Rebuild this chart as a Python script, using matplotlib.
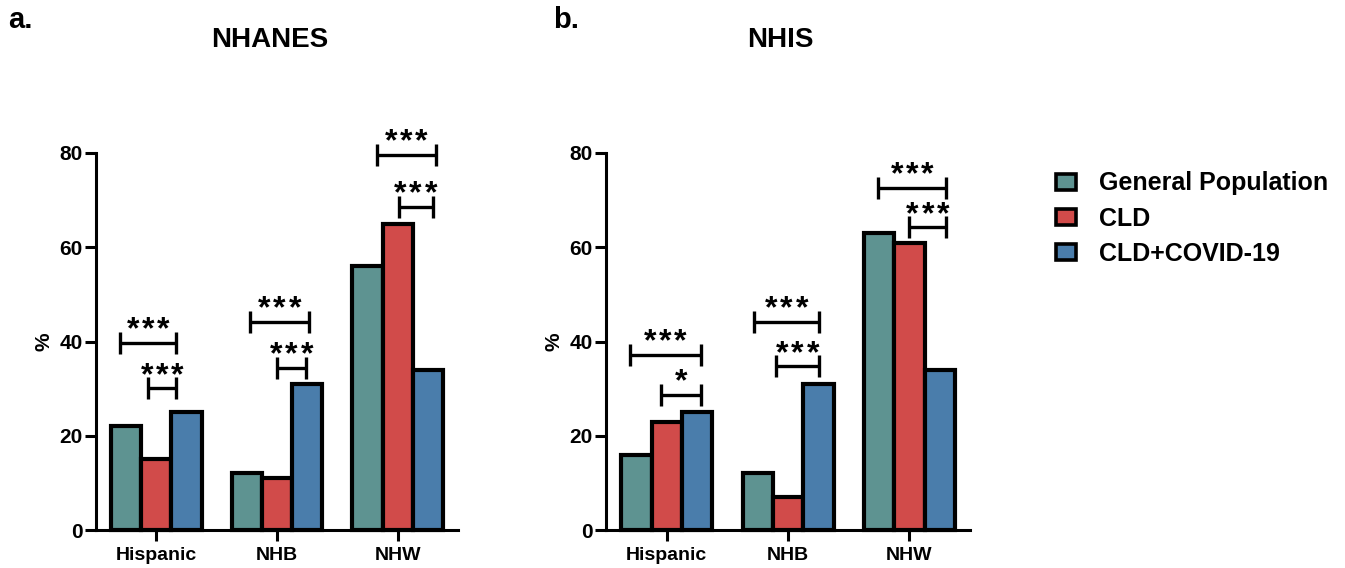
import matplotlib
matplotlib.use("Agg")
import matplotlib.pyplot as plt
from matplotlib.patches import Patch
import numpy as np

plt.rcParams['font.family'] = ['Liberation Sans', 'DejaVu Sans']
plt.rcParams['font.weight'] = 'bold'

categories = ["Hispanic", "NHB", "NHW"]
series_names = ["General Population", "CLD", "CLD+COVID-19"]
colors = ["#5E9391", "#D14B4A", "#4A7DAB"]

nhanes_gp = [22, 12, 56]
nhanes_cld = [15, 11, 65]
nhanes_covid = [25, 31, 34]

nhis_gp = [16, 12, 63]
nhis_cld = [23, 7, 61]
nhis_covid = [25, 31, 34]

yticks = [0, 20, 40, 60, 80]

# significance brackets: (x_start, x_end, y, label)
nhanes_sig = [(-0.30, 0.165, 39.7, "***"), (-0.066, 0.165, 30.1, "***"),
              (0.777, 1.264, 44.2, "***"), (1.0, 1.24, 34.4, "***"),
              (1.826, 2.314, 79.6, "***"), (2.008, 2.289, 68.6, "***")]
nhis_sig = [(-0.306, 0.281, 37.2, "***"), (-0.05, 0.281, 28.7, "*"),
            (0.719, 1.256, 44.2, "***"), (0.901, 1.256, 34.8, "***"),
            (1.744, 2.306, 72.6, "***"), (2.0, 2.306, 64.3, "***")]

fig = plt.figure(figsize=(13.45, 5.68), dpi=100)
ax_a = fig.add_axes([96/1345, 1-530/568, (458-96)/1345, (530-153)/568])
ax_b = fig.add_axes([606/1345, 1-530/568, (970-606)/1345, (530-153)/568])

bw = 0.25
x = np.arange(len(categories))

def draw(ax, data, sig, title):
    for i, (vals, c) in enumerate(zip(data, colors)):
        ax.bar(x + (i-1)*bw, vals, width=bw, color=c, edgecolor='black',
               linewidth=3.0, zorder=2, clip_on=False)
    ax.set_xlim(-0.5, 2.5)
    ax.set_ylim(0, 80)
    ax.set_yticks(yticks)
    ax.set_xticks(x)
    ax.set_xticklabels(categories, fontsize=14, fontweight='bold')
    ax.set_yticklabels([str(t) for t in yticks], fontsize=15, fontweight='bold')
    ax.set_ylabel('%', fontsize=15, fontweight='bold', labelpad=4)
    for s in ['top', 'right']:
        ax.spines[s].set_visible(False)
    for s in ['left', 'bottom']:
        ax.spines[s].set_linewidth(2.2)
    ax.tick_params(axis='y', width=2.2, length=8, pad=1.5)
    ax.tick_params(axis='x', width=2.2, length=8, pad=4)
    for (x0, x1, y, lab) in sig:
        cap = 2.3
        ax.plot([x0, x1], [y, y], color='black', lw=2.4, clip_on=False, solid_capstyle='butt')
        ax.plot([x0, x0], [y-cap, y+cap], color='black', lw=2.4, clip_on=False, solid_capstyle='butt')
        ax.plot([x1, x1], [y-cap, y+cap], color='black', lw=2.4, clip_on=False, solid_capstyle='butt')
        n = len(lab)
        for k in range(n):
            ax.annotate('*', xy=((x0+x1)/2, y), xytext=((k-(n-1)/2)*11.0, 3.0),
                        textcoords='offset points', ha='center', va='baseline',
                        fontsize=23, fontweight='bold', annotation_clip=False)
    fig.text(ax.get_position().x0 + ax.get_position().width*0.48, 1-40/568, title,
             ha='center', va='center', fontsize=20, fontweight='bold')

draw(ax_a, [nhanes_gp, nhanes_cld, nhanes_covid], nhanes_sig, "NHANES")
draw(ax_b, [nhis_gp, nhis_cld, nhis_covid], nhis_sig, "NHIS")

fig.text(8/1345, 1-20/568, "a.", ha='left', va='center', fontsize=21, fontweight='bold')
fig.text(553/1345, 1-20/568, "b.", ha='left', va='center', fontsize=21, fontweight='bold')

handles = [Patch(facecolor=c, edgecolor='black', linewidth=2.6) for c in colors]
fig.legend(handles, series_names, loc='upper left', bbox_to_anchor=(1033/1345, 1-149/568),
           frameon=False, handlelength=0.8, handleheight=0.6,
           handletextpad=0.95, labelspacing=0.45, prop={'weight': 'bold', 'size': 18})

fig.savefig("out.png", dpi=100)
